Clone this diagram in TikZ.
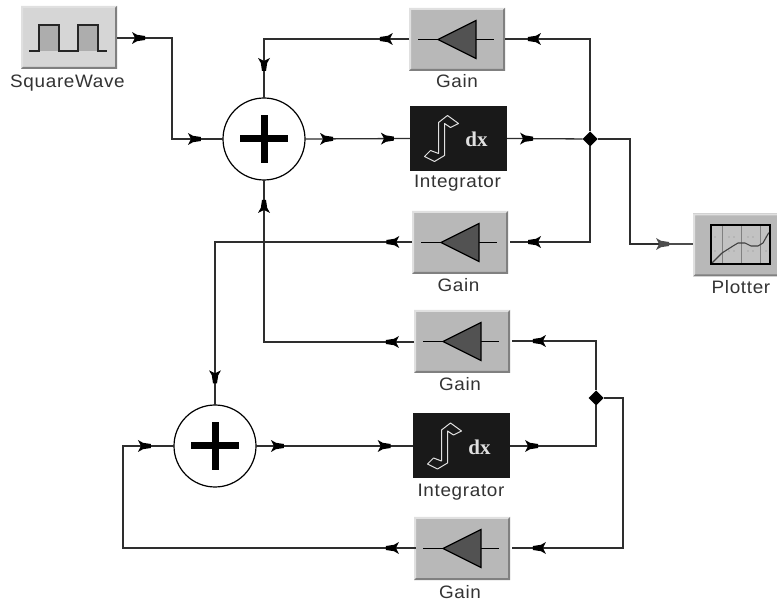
\documentclass[tikz,border=0pt]{standalone}
\usepackage{fontspec}
\setmainfont[LetterSpace=3.5]{Liberation Sans}
\newfontfamily\dxfont{Liberation Serif}
\usetikzlibrary{calc,shapes.geometric}
\tikzset{
 x=1pt,y=-1pt,
 wire/.style={draw=black!82,line width=1.3pt,line join=miter},
 gwire/.style={draw=black!70,line width=1.2pt},
 lab/.style={font=\fontsize{18}{18}\selectfont,text=black!80,inner sep=0pt,anchor=center,xscale=1.05},
 block/.style={minimum width=96pt,minimum height=63pt,inner sep=0pt,outer sep=0pt,fill=black!28},
 intblock/.style={minimum width=97pt,minimum height=65pt,inner sep=0pt,outer sep=0pt,fill=black!90},
 sumnode/.style={circle,draw=black,line width=1.2pt,fill=white,minimum size=82pt,inner sep=0pt,outer sep=0pt},
 junc/.style={diamond,fill=black,inner sep=0pt,minimum size=15pt,outer sep=0pt},
 tip/.pic={\fill[black] (-7,-6) -- (-2,-3.2) -- (6,-2) -- (6,2) -- (-2,3.2) -- (-7,6) -- (-4,0) -- cycle;},
 gtip/.pic={\fill[black!70] (-7,-6) -- (-2,-3.2) -- (6,-2) -- (6,2) -- (-2,3.2) -- (-7,6) -- (-4,0) -- cycle;},
 gainicon/.pic={
  \draw[black,line width=1.2pt] (-39,0) -- (37,0);
  \draw[black,line width=1.2pt,fill=black!68] (-19,0) -- (19,-19) -- (19,19) -- cycle;
 },
 bevel/.pic={
  \fill[black!12] (-48,-31.5) -- (48,-31.5) -- (46,-29.5) -- (-46,-29.5) -- (-46,29.5) -- (-48,31.5) -- cycle;
  \fill[black!50] (48,31.5) -- (48,-31.5) -- (46,-29.5) -- (46,29.5) -- (-46,29.5) -- (-48,31.5) -- cycle;
 },
 plus/.pic={
  \fill[black] (-24,-3.5) rectangle (24,3.5);
  \fill[black] (-3.5,-24) rectangle (3.5,24);
 },
 intgl/.pic={
  \draw[black!12,line width=1pt,line join=round] (-34,18) -- (-28,12) -- (-20,15) -- (-20,-16) -- (-11,-23) -- (0,-15) -- (-8,-11) -- (-14,-15) -- (-14,17) -- (-24,23) -- cycle;
  \node[inner sep=0pt,text=black!12,font=\fontsize{21}{21}\selectfont\dxfont\bfseries] at (18,1) {dx};
 },
}
\begin{document}
\begin{tikzpicture}
\useasboundingbox (0,0) rectangle (777,601);
\fill[white] (0,0) rectangle (777,601);

% blocks
\node[block,fill=black!16] (sq) at (69,37.5) {};
\pic at (sq.center) {bevel};
\fill[black!32] (39,51) -- (39,25) -- (59,25) -- (59,51) -- cycle (78,51) -- (78,25) -- (98,25) -- (98,51) -- cycle;
\draw[black!85,line width=1.2pt] (29,51) -- (39,51) -- (39,25) -- (59,25) -- (59,51) -- (78,51) -- (78,25) -- (98,25) -- (98,51) -- (107,51);
\node[lab] (sql) at (67.5,83) {SquareWave};

\node[block] (g1) at (457,39.5) {};
\pic at (g1.center) {bevel};
\pic at (g1.center) {gainicon};
\node[lab] (g1l) at (457,81.5) {Gain};

\node[intblock] (i1) at (458.5,138.5) {};
\pic at (i1.center) {intgl};
\node[lab] (i1l) at (457.5,183.5) {Integrator};

\node[block] (g2) at (460,242.5) {};
\pic at (g2.center) {bevel};
\pic at (g2.center) {gainicon};
\node[lab] (g2l) at (458.5,285) {Gain};

\node[block] (g3) at (462,341.5) {};
\pic at (g3.center) {bevel};
\pic at (g3.center) {gainicon};
\node[lab] (g3l) at (460,384.5) {Gain};

\node[intblock] (i2) at (461.5,446) {};
\pic at (i2.center) {intgl};
\node[lab] (i2l) at (461,492) {Integrator};

\node[block] (g4) at (462,548.5) {};
\pic at (g4.center) {bevel};
\pic at (g4.center) {gainicon};
\node[lab] (g4l) at (460,592) {Gain};

\node[block] (pl) at (741,245) {};
\pic at (pl.center) {bevel};
\fill[black!24] (711,225) rectangle (770,264);
\draw[black!50,line width=.8pt] (722,225) -- (722,264) (741,225) -- (741,264) (760,225) -- (760,264);
\fill[black!45] (715,237) circle (.6) (729,237) circle (.6) (734,237) circle (.6) (748,237) circle (.6) (753,237) circle (.6) (766,237) circle (.6)
 (715,251) circle (.6) (729,251) circle (.6) (734,251) circle (.6) (748,251) circle (.6) (753,251) circle (.6) (766,251) circle (.6);
\draw[black!75,line width=1.1pt] (711,264) -- (722,253) -- (733,246) -- (738,243) -- (745,243) -- (751,246) -- (758,246) -- (763,243) -- (768,234) -- (770,232);
\draw[black,line width=1.2pt] (711,225) rectangle (770,264);
\node[lab] (pll) at (741,287) {Plotter};

% summers
\node[sumnode] (s1) at (264,139) {};
\pic at (s1.center) {plus};
\node[sumnode] (s2) at (215,446) {};
\pic at (s2.center) {plus};

% junctions
\node[junc] (j1) at (590,139) {};
\node[junc] (j2) at (596,398) {};

% connector bends
\coordinate (a1) at (172,38);
\coordinate (a2) at (172,139);
\coordinate (b1) at (590,39);
\coordinate (b2) at (264,39);
\coordinate (c1) at (590,242);
\coordinate (c2) at (215,242);
\coordinate (d1) at (630,139);
\coordinate (d2) at (630,244);
\coordinate (e1) at (264,342);
\coordinate (f1) at (596,446);
\coordinate (g1a) at (596,341);
\coordinate (h1) at (623,398);
\coordinate (h2) at (623,548);
\coordinate (k1) at (123,548);
\coordinate (k2) at (123,446);

% connectors
\draw[wire] (117,38) -- pic[pos=.4,sloped,allow upside down]{tip} (a1) -- (a2) -- pic[pos=.45,sloped,allow upside down]{tip} (s1.west);
\draw[wire] (s1.east) -- pic[pos=.21,sloped,allow upside down]{tip} pic[pos=.79,sloped,allow upside down]{tip} (i1.west);
\draw[wire] (i1.east) -- pic[pos=.265,sloped,allow upside down]{tip} (j1);
\draw[wire] (j1) -- (b1) -- pic[pos=.66,sloped,allow upside down]{tip} (505,39);
\draw[wire] (409,39) -- pic[pos=.16,sloped,allow upside down]{tip} (b2) -- pic[pos=.44,sloped,allow upside down]{tip} (s1.north);
\draw[wire] (j1) -- (c1) -- pic[pos=.7,sloped,allow upside down]{tip} (510,242);
\draw[wire] (412,242) -- pic[pos=.1,sloped,allow upside down]{tip} (c2) -- pic[pos=.83,sloped,allow upside down]{tip} (s2.north);
\draw[wire] (j1) -- (d1) -- (d2) -- (683,244);
\draw[gwire] (663,244) -- pic[pos=0,sloped,allow upside down]{gtip} (693,244);
\draw[wire] (414,342) -- pic[pos=.147,sloped,allow upside down]{tip} (e1) -- pic[pos=.84,sloped,allow upside down]{tip} (s1.south);
\draw[wire] (i2.east) -- pic[pos=.256,sloped,allow upside down]{tip} (f1) -- (j2);
\draw[wire] (j2) -- (g1a) -- pic[pos=.68,sloped,allow upside down]{tip} (512,341);
\draw[wire] (j2) -- (h1) -- (h2) -- pic[pos=.757,sloped,allow upside down]{tip} (512,548);
\draw[wire] (416,548) -- pic[pos=.082,sloped,allow upside down]{tip} (k1) -- (k2) -- pic[pos=.43,sloped,allow upside down]{tip} (s2.west);
\draw[wire] (s2.east) -- pic[pos=.14,sloped,allow upside down]{tip} pic[pos=.82,sloped,allow upside down]{tip} (i2.west);
\end{tikzpicture}
\end{document}
